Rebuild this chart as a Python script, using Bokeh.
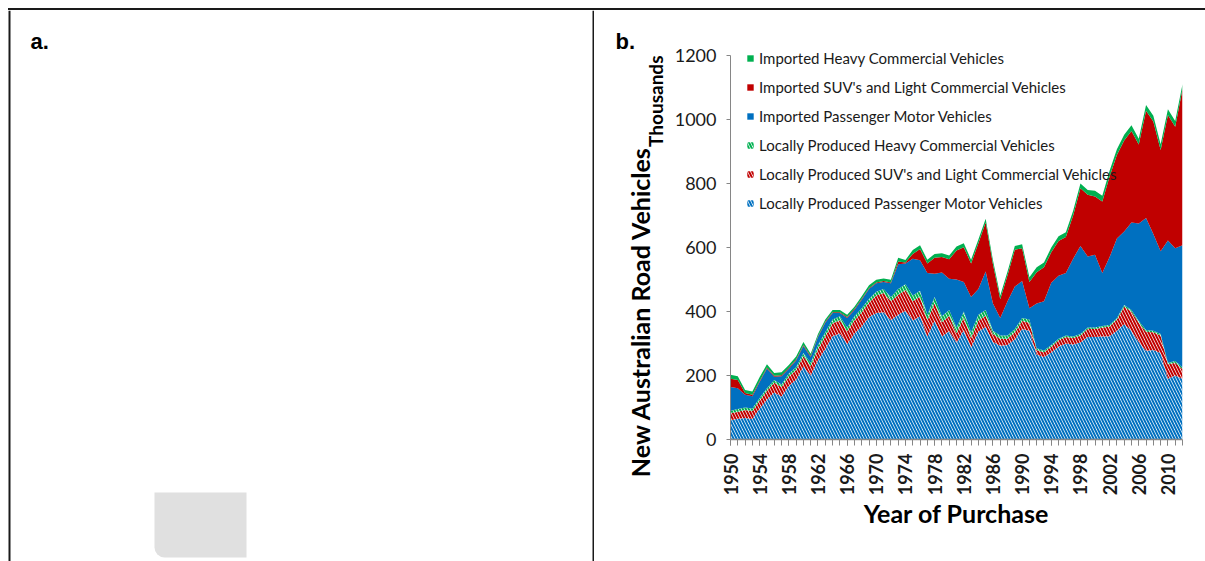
from math import pi
from bokeh.plotting import figure
from bokeh.layouts import row, column
from bokeh.models import Range1d, FixedTicker, Legend, LegendItem, ColumnDataSource, Div
from bokeh.core.properties import value
from bokeh.transform import stack
from bokeh.embed import file_html
from bokeh.resources import INLINE

# ---------------- data (thousands of vehicles) ----------------
years = list(range(1950, 2013))

local_passenger = [60, 65, 67, 64, 97, 124, 147, 134, 167, 187,
                   228, 200, 248, 283, 323, 331, 298, 331, 353, 383,
                   395, 398, 373, 390, 402, 372, 385, 322, 372, 322,
                   339, 302, 342, 287, 337, 352, 305, 293, 295, 313,
                   345, 340, 265, 258, 272, 290, 300, 297, 303, 320,
                   320, 322, 323, 340, 360, 340, 305, 277, 280, 270,
                   190, 200, 190]
local_suv_lcv = [22, 22, 25, 25, 25, 28, 30, 30, 30, 30,
                 32, 30, 35, 40, 40, 42, 40, 42, 45, 45,
                 55, 60, 60, 62, 65, 60, 62, 50, 55, 45,
                 48, 30, 40, 30, 35, 35, 25, 22, 20, 22,
                 25, 25, 15, 15, 18, 20, 20, 20, 22, 25,
                 25, 28, 30, 35, 55, 60, 60, 60, 55, 55,
                 45, 40, 30]
local_heavy = [8, 8, 8, 8, 8, 8, 9, 8, 9, 9,
               10, 10, 12, 12, 12, 12, 12, 12, 12, 12,
               12, 12, 12, 18, 18, 18, 18, 18, 18, 18,
               18, 18, 18, 18, 18, 18, 10, 10, 10, 10,
               10, 10, 5, 5, 5, 5, 5, 5, 5, 5,
               5, 5, 5, 5, 5, 5, 5, 5, 5, 5,
               5, 5, 5]
imported_passenger = [74, 65, 40, 38, 50, 62, 10, 26, 15, 21,
                      22, 18, 25, 30, 20, 10, 30, 20, 27, 30,
                      26, 22, 43, 78, 65, 115, 95, 130, 73, 137,
                      97, 150, 92, 110, 80, 120, 85, 55, 107, 133,
                      115, 35, 140, 154, 195, 197, 195, 243, 275, 222,
                      227, 165, 212, 248, 230, 273, 305, 350, 302, 258,
                      382, 353, 382]
imported_suv_lcv = [26, 26, 5, 5, 3, 3, 3, 3, 3, 3,
                    3, 3, 3, 3, 3, 3, 3, 3, 3, 3,
                    3, 3, 3, 8, 3, 15, 35, 30, 50, 48,
                    61, 91, 109, 105, 143, 153, 123, 58, 81, 115,
                    103, 82, 98, 106, 95, 108, 113, 135, 180, 193,
                    182, 224, 252, 261, 284, 286, 247, 335, 352, 317,
                    392, 379, 488]
imported_heavy = [12, 12, 10, 10, 12, 10, 9, 9, 9, 9,
                  10, 7, 7, 7, 7, 7, 7, 7, 8, 9,
                  8, 8, 8, 12, 8, 12, 12, 12, 12, 12,
                  12, 12, 12, 12, 12, 12, 12, 12, 12, 12,
                  12, 15, 15, 15, 15, 15, 15, 15, 15, 15,
                  18, 18, 18, 18, 18, 18, 18, 18, 18, 18,
                  18, 18, 15]

series_labels = ["Locally Produced Passenger Motor Vehicles",
                 "Locally Produced SUV's and Light Commercial Vehicles",
                 "Locally Produced Heavy Commercial Vehicles",
                 "Imported Passenger Motor Vehicles",
                 "Imported SUV's and Light Commercial Vehicles",
                 "Imported Heavy Commercial Vehicles"]
series_colors = ["#0070C0", "#C00000", "#00B050", "#0070C0", "#C00000", "#00B050"]
series_hatched = [True, True, True, False, False, False]

y_ticks = [0, 200, 400, 600, 800, 1000, 1200]
x_label_ticks = list(range(1950, 2011, 4))

FONT = "Lato"
BORDER = "#1a1a1a"
AXIS = "#868686"


def no_align(fig):
    if "frame_align" in fig.properties():
        fig.frame_align = False
    return fig


source = ColumnDataSource(dict(year=years, lp=local_passenger, ls=local_suv_lcv,
                               lh=local_heavy, ip=imported_passenger,
                               is_=imported_suv_lcv, ih=imported_heavy))
cols = ["lp", "ls", "lh", "ip", "is_", "ih"]

# ---------------- panel b: the chart ----------------
p = figure(width=535, height=551, x_range=Range1d(1950, 2012), y_range=Range1d(0, 1237.5),
           output_backend="svg", toolbar_location=None,
           min_border_left=60, min_border_right=23, min_border_top=33, min_border_bottom=122)
no_align(p)
p.outline_line_color = None
p.grid.visible = False
p.background_fill_color = "white"
p.border_fill_color = "white"

renderers = []
for i, c in enumerate(cols):
    y1 = stack(*cols[:i]) if i > 0 else 0
    y2 = stack(*cols[:i + 1])
    if series_hatched[i]:
        r = p.varea(x="year", y1=y1, y2=y2, source=source, fill_color="white",
                    hatch_pattern="left_diagonal_line", hatch_color=series_colors[i],
                    hatch_scale=6, hatch_weight=2.0)
    else:
        r = p.varea(x="year", y1=y1, y2=y2, source=source, fill_color=series_colors[i])
    renderers.append(r)

# y axis
p.yaxis.ticker = FixedTicker(ticks=y_ticks)
p.yaxis.bounds = (0, 1200)
p.yaxis.axis_line_color = AXIS
p.yaxis.major_tick_line_color = AXIS
p.yaxis.major_tick_out = 4
p.yaxis.major_tick_in = 0
p.yaxis.minor_tick_line_color = None
p.yaxis.major_label_standoff = 10
p.yaxis.major_label_text_font = FONT
p.yaxis.major_label_text_font_size = "18px"
p.yaxis.major_label_text_color = "#1a1a1a"

# x axis
p.xaxis.ticker = FixedTicker(ticks=x_label_ticks, minor_ticks=years)
p.xaxis.axis_line_color = AXIS
p.xaxis.axis_line_width = 1.5
p.xaxis.major_tick_line_color = AXIS
p.xaxis.minor_tick_line_color = AXIS
p.xaxis.major_tick_out = 6
p.xaxis.major_tick_in = 0
p.xaxis.minor_tick_out = 6
p.xaxis.minor_tick_in = 0
p.xaxis.major_label_orientation = pi / 2
p.xaxis.major_label_standoff = 8
p.xaxis.major_label_text_font = FONT
p.xaxis.major_label_text_font_style = "bold"
p.xaxis.major_label_text_font_size = "18px"
p.xaxis.major_label_text_color = "#1a1a1a"
p.xaxis.axis_label = "Year of Purchase"
p.xaxis.axis_label_text_font = FONT
p.xaxis.axis_label_text_font_style = "bold"
p.xaxis.axis_label_text_font_size = "25px"
p.xaxis.axis_label_text_color = "#000000"
p.xaxis.axis_label_standoff = 0

order = [5, 4, 3, 2, 1, 0]
legend = Legend(items=[LegendItem(label=series_labels[i], renderers=[renderers[i]]) for i in order],
                location=(16, 226))
legend.padding = 0
legend.margin = 0
legend.border_line_color = None
legend.background_fill_alpha = 0
legend.glyph_width = 8
legend.glyph_height = 8
legend.label_height = 20
legend.spacing = 9
legend.label_standoff = 5
legend.label_text_font = FONT
legend.label_text_font_size = "15px"
legend.label_text_color = "#1a1a1a"
p.add_layout(legend)

# ---------------- strip with the panel-b texts left of the axis ----------------
t = figure(width=76, height=551, x_range=Range1d(0, 76), y_range=Range1d(551, 0),
           output_backend="svg", toolbar_location=None, min_border=0,
           x_axis_location=None, y_axis_location=None)
no_align(t)
t.outline_line_color = None
t.grid.visible = False
t.text(x=[21], y=[31], text=["b."], text_font=value("Liberation Sans"),
       text_font_style="bold", text_font_size="22px", text_baseline="alphabetic",
       text_color="#000")
t.text(x=[61], y=[45], text=["Thousands"], angle=pi / 2, text_align="right",
       text_baseline="middle", text_font=value(FONT), text_font_style="bold",
       text_font_size="19px", text_color="#000")
t.text(x=[45], y=[301], text=["New Australian Road Vehicles"], angle=pi / 2,
       text_align="center", text_baseline="middle", text_font=value(FONT),
       text_font_style="bold", text_font_size="25px", text_color="#000")

# ---------------- panel a ----------------
a = figure(width=594, height=551, x_range=Range1d(0, 594), y_range=Range1d(551, 0),
           output_backend="svg", toolbar_location=None, min_border=0,
           x_axis_location=None, y_axis_location=None)
no_align(a)
a.outline_line_color = None
a.grid.visible = False
frame_left = [8, 592]
frame_right = [10, 594]
a.quad(left=frame_left, right=frame_right, top=[0, 0], bottom=[551, 551],
       fill_color=BORDER, line_color=None)
a.text(x=[30], y=[31], text=["a."], text_font=value("Liberation Sans"),
       text_font_style="bold", text_font_size="22px", text_baseline="alphabetic",
       text_color="#000")
box_l, box_r, box_t, box_b = 154, 246, 482, 547
a.quad(left=[box_l], right=[box_r], top=[box_t], bottom=[box_b], fill_color="#e0e0e0",
       line_color=None, border_radius=(0, 0, 0, 10))

# top border strip
top = Div(text="", width=1197, height=2, margin=(8, 0, 0, 8),
          styles={"background-color": BORDER})

layout = column(top, row(a, t, p, spacing=0), spacing=0)

with open("out.html", "w") as f:
    f.write(file_html(layout, INLINE))
